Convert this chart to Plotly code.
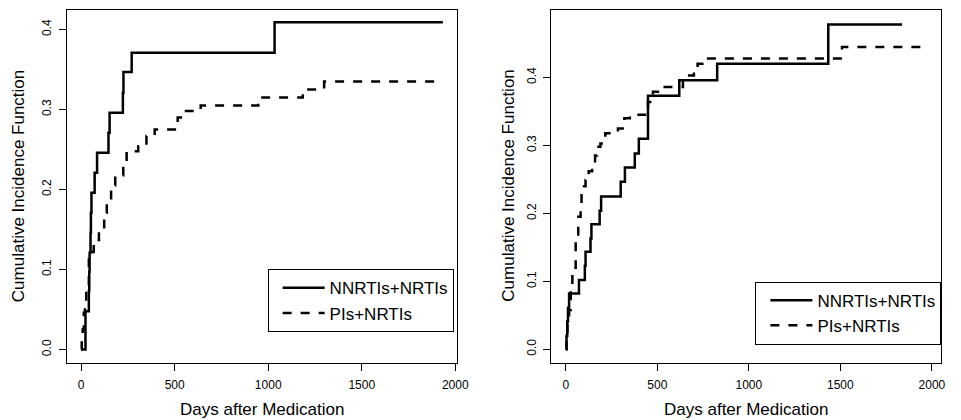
import plotly.graph_objects as go

# ---------------- data ----------------
series_names = ["NNRTIs+NRTIs", "PIs+NRTIs"]
x_ticks = [0, 500, 1000, 1500, 2000]
y_ticks = [0.0, 0.1, 0.2, 0.3, 0.4]
y_tick_labels = ["0.0", "0.1", "0.2", "0.3", "0.4"]

# Left panel
left_nnrti_days = [0, 23, 41, 43, 45, 50, 52, 55, 72, 85, 146, 152, 223, 226, 270, 1034, 1934]
left_nnrti_cif = [0, 0.048, 0.073, 0.097, 0.121, 0.146, 0.171, 0.196, 0.221, 0.246, 0.271, 0.296,
                  0.321, 0.347, 0.371, 0.409, 0.409]

left_pi_days = [0, 3, 8, 14, 20, 27, 41, 55, 67, 95, 108, 123, 137, 160, 182, 225, 243, 305,
                349, 393, 516, 551, 639, 947, 1185, 1299, 1910]
left_pi_cif = [0, 0.012, 0.025, 0.046, 0.06, 0.079, 0.117, 0.122, 0.137, 0.145, 0.15, 0.171,
               0.1875, 0.205, 0.218, 0.23, 0.248, 0.254, 0.267, 0.275, 0.29, 0.298, 0.305,
               0.315, 0.325, 0.335, 0.335]

# Right panel
right_nnrti_days = [0, 4, 8, 12, 18, 72, 104, 108, 135, 140, 185, 193, 300, 323, 377, 399, 449,
                    620, 827, 1434, 1837]
right_nnrti_cif = [0, 0.02, 0.041, 0.061, 0.082, 0.102, 0.123, 0.1435, 0.163, 0.184, 0.204,
                   0.225, 0.2465, 0.2676, 0.288, 0.31, 0.373, 0.396, 0.42, 0.478, 0.478]

right_pi_days = [0, 4, 9, 18, 27, 36, 54, 63, 68, 81, 86, 100, 108, 125, 144, 160, 171, 189,
                 216, 285, 320, 350, 449, 476, 520, 640, 700, 720, 746, 1509, 1973]
right_pi_cif = [0, 0.02, 0.048, 0.058, 0.092, 0.12, 0.16, 0.163, 0.195, 0.21, 0.229, 0.24,
                0.249, 0.262, 0.273, 0.285, 0.298, 0.303, 0.318, 0.325, 0.34, 0.345, 0.364,
                0.379, 0.386, 0.403, 0.411, 0.42, 0.428, 0.445, 0.445]

# ---------------- figure ----------------
W, H = 961, 420
FONT = "Liberation Sans, Arial, Helvetica, sans-serif"
LW = 2.5
DASH = "9px,9px"

fig = go.Figure()

def add(xs, ys, name, dash, xa, ya, leg):
    fig.add_trace(go.Scatter(
        x=xs, y=ys, mode="lines", name=name, line_shape="hv",
        line=dict(color="black", width=LW, dash=dash),
        xaxis=xa, yaxis=ya, legend=leg, hoverinfo="skip"))

add(left_nnrti_days, left_nnrti_cif, series_names[0], "solid", "x", "y", "legend")
add(left_pi_days, left_pi_cif, series_names[1], DASH, "x", "y", "legend")
add(right_nnrti_days, right_nnrti_cif, series_names[0], "solid", "x2", "y2", "legend2")
add(right_pi_days, right_pi_cif, series_names[1], DASH, "x2", "y2", "legend2")

y_dom = [1 - 362.7 / H, 1 - 9.5 / H]

axis_common = dict(
    showgrid=False, zeroline=False, showline=True, mirror=True,
    linecolor="black", linewidth=1, ticks="outside", ticklen=7,
    tickcolor="black", tickwidth=1,
    tickfont=dict(family=FONT, size=12, color="black"),
)

legend_common = dict(
    yanchor="top",
    bordercolor="black", borderwidth=1, bgcolor="white",
    font=dict(family=FONT, size=17, color="black"),
    itemwidth=42, indentation=9, tracegroupgap=0,
)

fig.update_layout(
    width=W, height=H, autosize=False,
    margin=dict(l=0, r=0, t=0, b=0),
    paper_bgcolor="white", plot_bgcolor="white",
    font=dict(family=FONT, color="black"),
    xaxis=dict(domain=[68 / W, 462.7 / W], range=[-75, 2009], anchor="y",
               tickvals=x_ticks, ticklabelstandoff=4, **axis_common),
    yaxis=dict(domain=y_dom, range=[-0.0164, 0.425], anchor="x",
               tickvals=y_ticks, ticktext=y_tick_labels, tickangle=-90,
               ticklabelstandoff=3, **axis_common),
    xaxis2=dict(domain=[558.3 / W, 953.3 / W], range=[-79, 2052], anchor="y2",
                tickvals=x_ticks, ticklabelstandoff=4, **axis_common),
    yaxis2=dict(domain=y_dom, range=[-0.0197, 0.5], anchor="x2",
                tickvals=y_ticks, ticktext=y_tick_labels, tickangle=-90,
                ticklabelstandoff=3, **axis_common),
    legend=dict(x=271 / W, xanchor="left", y=1 - 269.3 / H, **legend_common),
    legend2=dict(x=953.3 / W, xanchor="right", y=1 - 281.7 / H, **legend_common),
    showlegend=True,
)

title_font = dict(family=FONT, size=17, color="black")
anns = [
    dict(text="Days after Medication", x=265.3 / W, y=1 - 409 / H),
    dict(text="Days after Medication", x=755.8 / W, y=1 - 409 / H),
    dict(text="Cumulative Incidence Function", x=18.3 / W, y=1 - 186.1 / H, textangle=-90),
    dict(text="Cumulative Incidence Function", x=515 / W, y=1 - 186.1 / H, textangle=-90),
]
for a in anns:
    fig.add_annotation(xref="paper", yref="paper", showarrow=False,
                       xanchor="center", yanchor="middle", font=title_font, **a)

fig.write_html("out.html",
               config={"displayModeBar": False},
               post_script="document.body.style.margin='0';document.body.style.overflow='hidden';")
